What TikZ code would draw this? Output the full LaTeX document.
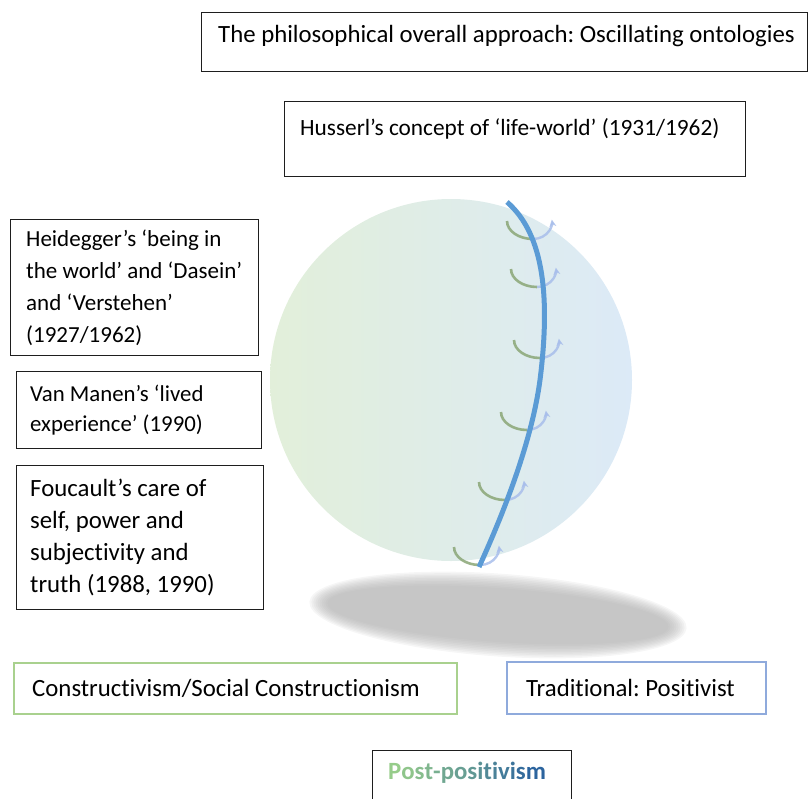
\documentclass[tikz,border=0pt]{standalone}
\usepackage{fontspec}
\setmainfont{Carlito}[Ligatures=NoCommon]
\usetikzlibrary{arrows.meta}

\definecolor{boxline}{RGB}{30,30,30}
\definecolor{spheregreen}{RGB}{226,239,218}
\definecolor{sphereblue}{RGB}{220,234,247}
\definecolor{axisblue}{RGB}{91,155,213}
\definecolor{swinggreen}{RGB}{138,166,118}
\definecolor{swingblue}{RGB}{168,190,235}
\definecolor{groundgray}{RGB}{172,172,172}
\definecolor{constrgreen}{RGB}{169,209,142}
\definecolor{posblue}{RGB}{143,170,220}
\definecolor{ppgreen}{RGB}{150,204,138}
\definecolor{ppblue}{RGB}{44,100,158}

\begin{document}
\frenchspacing
\begin{tikzpicture}[x=1pt,y=-1pt,
  frame/.style={draw=boxline, line width=1.2pt, anchor=north west, inner sep=0pt},
  txt/.style={anchor=west, align=left, inner sep=0pt, text=black},
  swingleft/.style={draw=swinggreen, line width=2.6pt, opacity=0.85},
  swingright/.style={draw=swingblue, line width=2.4pt, opacity=0.85,
    -{Stealth[length=7pt,width=7pt]}}]
\useasboundingbox (0,0) rectangle (811,798);

% soft ground shadow under the sphere
\begin{scope}[rotate around={-4:(498,615)}]
  \foreach \k in {0,...,9}
    \fill[groundgray, opacity=0.11] (498,615) ellipse [x radius={171+2*\k}, y radius={27+1.6*\k}];
\end{scope}

% the sphere
\shade[left color=spheregreen, right color=sphereblue] (451,380) circle [radius=181];

% oscillating swings along the axis
\foreach \bx/\by in {533/239, 537/287, 540/358, 527/430, 505/500, 480/565}{
  \draw[swingleft] (\bx-26,\by-18) arc [start angle=180, end angle=90, x radius=26, y radius=18];
  \draw[swingright] (\bx,\by) arc [start angle=90, end angle=-8, x radius=19, y radius=17];
}

% the bent axis
\draw[axisblue, line width=5pt] (507,202) .. controls (545,235) and (550,300) .. (540,380)
  .. controls (532,440) and (505,510) .. (479,567);

% frames
\node[frame, minimum width=606, minimum height=59] (top) at (201,12) {};
\node[frame, minimum width=461, minimum height=75] (hus) at (284,101) {};
\node[frame, minimum width=248, minimum height=136] (heid) at (10,219) {};
\node[frame, minimum width=245, minimum height=77] (vanm) at (16,371) {};
\node[frame, minimum width=247, minimum height=144] (fouc) at (16,465) {};
\node[frame, draw=constrgreen, line width=2pt, minimum width=443, minimum height=51] (constr) at (13,662) {};
\node[frame, draw=posblue, line width=2pt, minimum width=259, minimum height=52] (trad) at (506,661) {};
\node[frame, minimum width=199, minimum height=80] (post) at (372,750) {};

% texts
\node[txt, font=\fontsize{24.8}{28}\selectfont, yshift=6pt] (toptxt) at ([xshift=17pt]top.west)
  {The philosophical overall approach: Oscillating ontologies};
\node[txt, font=\fontsize{23.3}{27}\selectfont, yshift=10pt] (hustxt) at ([xshift=16pt]hus.west)
  {Husserl’s concept of ‘life-world’ (1931/1962)};
\node[txt, font=\fontsize{23}{32}\selectfont] (heidtxt) at ([xshift=16pt]heid.west)
  {Heidegger’s ‘being in\\the world’ and ‘Dasein’\\and ‘Verstehen’\\(1927/1962)};
\node[txt, font=\fontsize{22.8}{30}\selectfont] (vanmtxt) at ([xshift=14pt]vanm.west)
  {Van Manen’s ‘lived\\experience’ (1990)};
\node[txt, font=\fontsize{24.8}{32}\selectfont] (foutxt) at ([xshift=14pt]fouc.west)
  {Foucault’s care of\\self, power and\\subjectivity and\\truth (1988, 1990)};
\node[txt, font=\fontsize{24.8}{28}\selectfont] (constrtxt) at ([xshift=19pt]constr.west)
  {Constructivism/Social Constructionism};
\node[txt, font=\fontsize{24.8}{28}\selectfont] (tradtxt) at ([xshift=20pt]trad.west)
  {Traditional: Positivist};
\node[txt, font=\bfseries\fontsize{24.8}{28}\selectfont, anchor=west] (posttxt) at (388,773)
  {\textcolor{ppblue!0!ppgreen}{P}\textcolor{ppblue!7!ppgreen}{o}\textcolor{ppblue!14!ppgreen}{s}%
   \textcolor{ppblue!21!ppgreen}{t}\textcolor{ppblue!28!ppgreen}{-}\textcolor{ppblue!36!ppgreen}{p}%
   \textcolor{ppblue!43!ppgreen}{o}\textcolor{ppblue!50!ppgreen}{s}\textcolor{ppblue!57!ppgreen}{i}%
   \textcolor{ppblue!64!ppgreen}{t}\textcolor{ppblue!71!ppgreen}{i}\textcolor{ppblue!78!ppgreen}{v}%
   \textcolor{ppblue!85!ppgreen}{i}\textcolor{ppblue!92!ppgreen}{s}\textcolor{ppblue!100!ppgreen}{m}};
\end{tikzpicture}
\end{document}
